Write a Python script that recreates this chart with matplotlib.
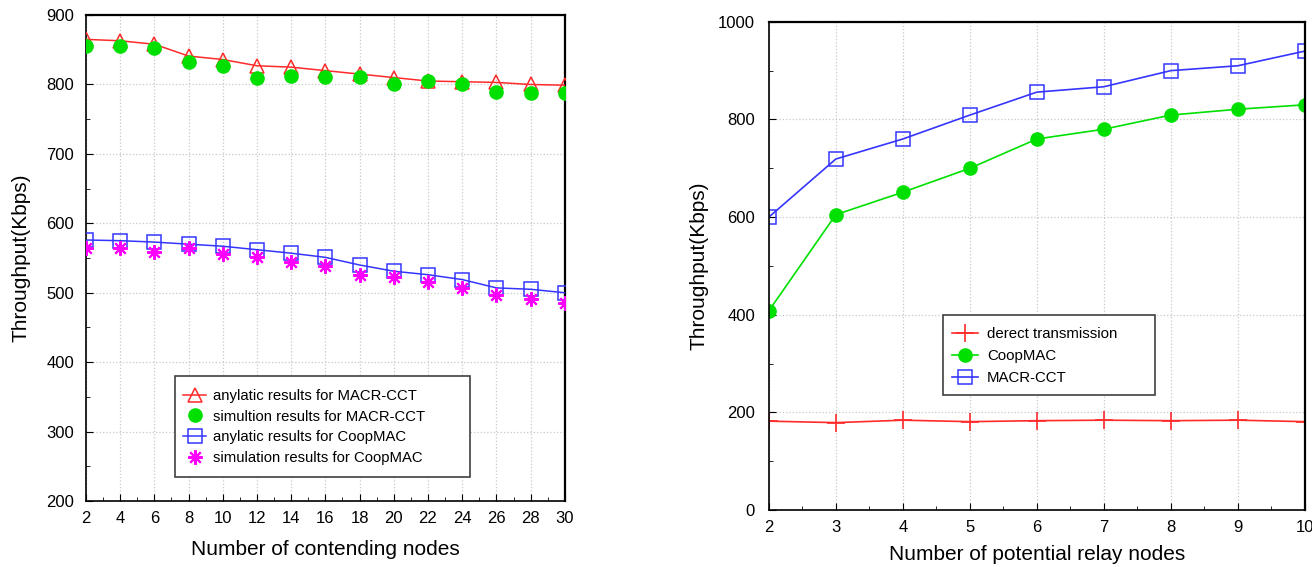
import matplotlib
matplotlib.use("Agg")
import matplotlib.pyplot as plt
from matplotlib.ticker import MultipleLocator
from matplotlib.patches import Rectangle

plt.rcParams['font.family'] = ['Liberation Sans', 'DejaVu Sans']

# throughput vs. number of contending nodes
nodes = [2, 4, 6, 8, 10, 12, 14, 16, 18, 20, 22, 24, 26, 28, 30]
macr_ana = [865, 863, 858, 841, 836, 827, 825, 820, 815, 810, 805, 804, 803, 800, 799]
macr_sim = [856, 855, 852, 832, 826, 810, 812, 811, 811, 800, 805, 800, 789, 788, 788]
coop_ana = [576, 575, 573, 570, 567, 562, 557, 551, 540, 531, 526, 519, 507, 505, 500]
coop_sim = [564, 565, 558, 564, 556, 552, 545, 538, 526, 522, 516, 507, 497, 491, 485]

# throughput vs. number of potential relay nodes
relays = [2, 3, 4, 5, 6, 7, 8, 9, 10]
direct = [182, 179, 184, 181, 183, 184, 183, 184, 181]
coopmac = [408, 605, 651, 700, 760, 780, 809, 821, 830]
macr_cct = [600, 719, 760, 809, 856, 867, 900, 910, 940]

RED = '#ff2a2a'
GREEN = '#00e000'
BLUE = '#3535ff'
MAGENTA = '#ff00ff'
asterisk = (8, 2, 0)
W, H = 1312, 567

fig = plt.figure(figsize=(W / 100, H / 100), dpi=100)
ax1 = fig.add_axes([0.0655, 0.1164, 0.365, 0.857])
ax2 = fig.add_axes([0.586, 0.1005, 0.4085, 0.861])


def style_axes(ax, ypad):
    ax.grid(True, which='major', color='#c8c8c8', linestyle=':', linewidth=0.9)
    ax.tick_params(which='both', direction='in', labelsize=12, top=False, right=False)
    ax.tick_params(axis='y', pad=ypad)
    ax.tick_params(axis='x', pad=7.5)
    ax.tick_params(which='major', length=5)
    ax.tick_params(which='minor', length=3)
    for side in ['left', 'bottom']:
        ax.spines[side].set_linewidth(1.2)
    for side in ['top', 'right']:
        ax.spines[side].set_linewidth(1.6)


def key(ax, box, anchor, fontsize, handlelength, handletextpad, labelspacing):
    # gnuplot-style key: a wide frame with the entries placed inside it (pixel units)
    x0, y0, x1, y1 = box
    fig.patches.append(Rectangle((x0 / W, 1 - y1 / H), (x1 - x0) / W, (y1 - y0) / H,
                                 transform=fig.transFigure, facecolor='white',
                                 edgecolor='#404040', linewidth=1.2, zorder=5))
    handles, labels = ax.get_legend_handles_labels()
    leg = fig.legend(handles, labels, loc='upper left',
                     bbox_to_anchor=(anchor[0] / W, 1 - anchor[1] / H),
                     fontsize=fontsize, frameon=False, borderpad=0, borderaxespad=0,
                     handlelength=handlelength, handletextpad=handletextpad,
                     labelspacing=labelspacing)
    leg.set_zorder(6)


ax1.plot(nodes, macr_ana, color=RED, lw=1.1, marker='^', ms=9.5, mfc='none', mec=RED,
         mew=1.1, label='anylatic results for MACR-CCT', zorder=3)
ax1.plot(nodes, macr_sim, color=GREEN, lw=0, marker='o', ms=9.5, mec=GREEN,
         label='simultion results for MACR-CCT', zorder=4)
ax1.plot(nodes, coop_ana, color=BLUE, lw=1.1, marker='s', ms=9.5, mfc='none', mec=BLUE,
         mew=1.1, label='anylatic results for CoopMAC', zorder=3)
ax1.plot(nodes, coop_sim, color=MAGENTA, lw=0, marker=asterisk, ms=10.5, mew=1.5,
         label='simulation results for CoopMAC', zorder=4)

ax1.set_xlim(2, 30)
ax1.set_ylim(200, 900)
ax1.set_xticks(nodes)
ax1.xaxis.set_minor_locator(MultipleLocator(1))
ax1.yaxis.set_major_locator(MultipleLocator(100))
ax1.yaxis.set_minor_locator(MultipleLocator(50))
style_axes(ax1, 8.6)
ax1.set_xlabel('Number of contending nodes', fontsize=15, labelpad=10)
ax1.set_ylabel('Throughput(Kbps)', fontsize=15, labelpad=11)
key(ax1, (175, 376, 470, 477), (183, 389), 10.7, 1.55, 0.5, 0.45)

ax2.plot(relays, direct, color=RED, lw=1.2, marker='+', ms=13, mew=1.2,
         label='derect transmission')
ax2.plot(relays, coopmac, color=GREEN, lw=1.2, marker='o', ms=9.5,
         label='CoopMAC')
ax2.plot(relays, macr_cct, color=BLUE, lw=1.2, marker='s', ms=10.5, mfc='none', mec=BLUE,
         mew=1.1, label='MACR-CCT')

ax2.set_xlim(2, 10)
ax2.set_ylim(0, 1000)
ax2.set_xticks(relays)
ax2.xaxis.set_minor_locator(MultipleLocator(0.5))
ax2.yaxis.set_major_locator(MultipleLocator(200))
ax2.yaxis.set_minor_locator(MultipleLocator(100))
style_axes(ax2, 10)
ax2.set_xlabel('Number of potential relay nodes', fontsize=15, labelpad=7)
ax2.set_ylabel('Throughput(Kbps)', fontsize=15, labelpad=7)
key(ax2, (943, 315, 1155, 395), (952, 327.5), 10.8, 1.73, 0.6, 0.52)

fig.savefig('out.png', dpi=100)
